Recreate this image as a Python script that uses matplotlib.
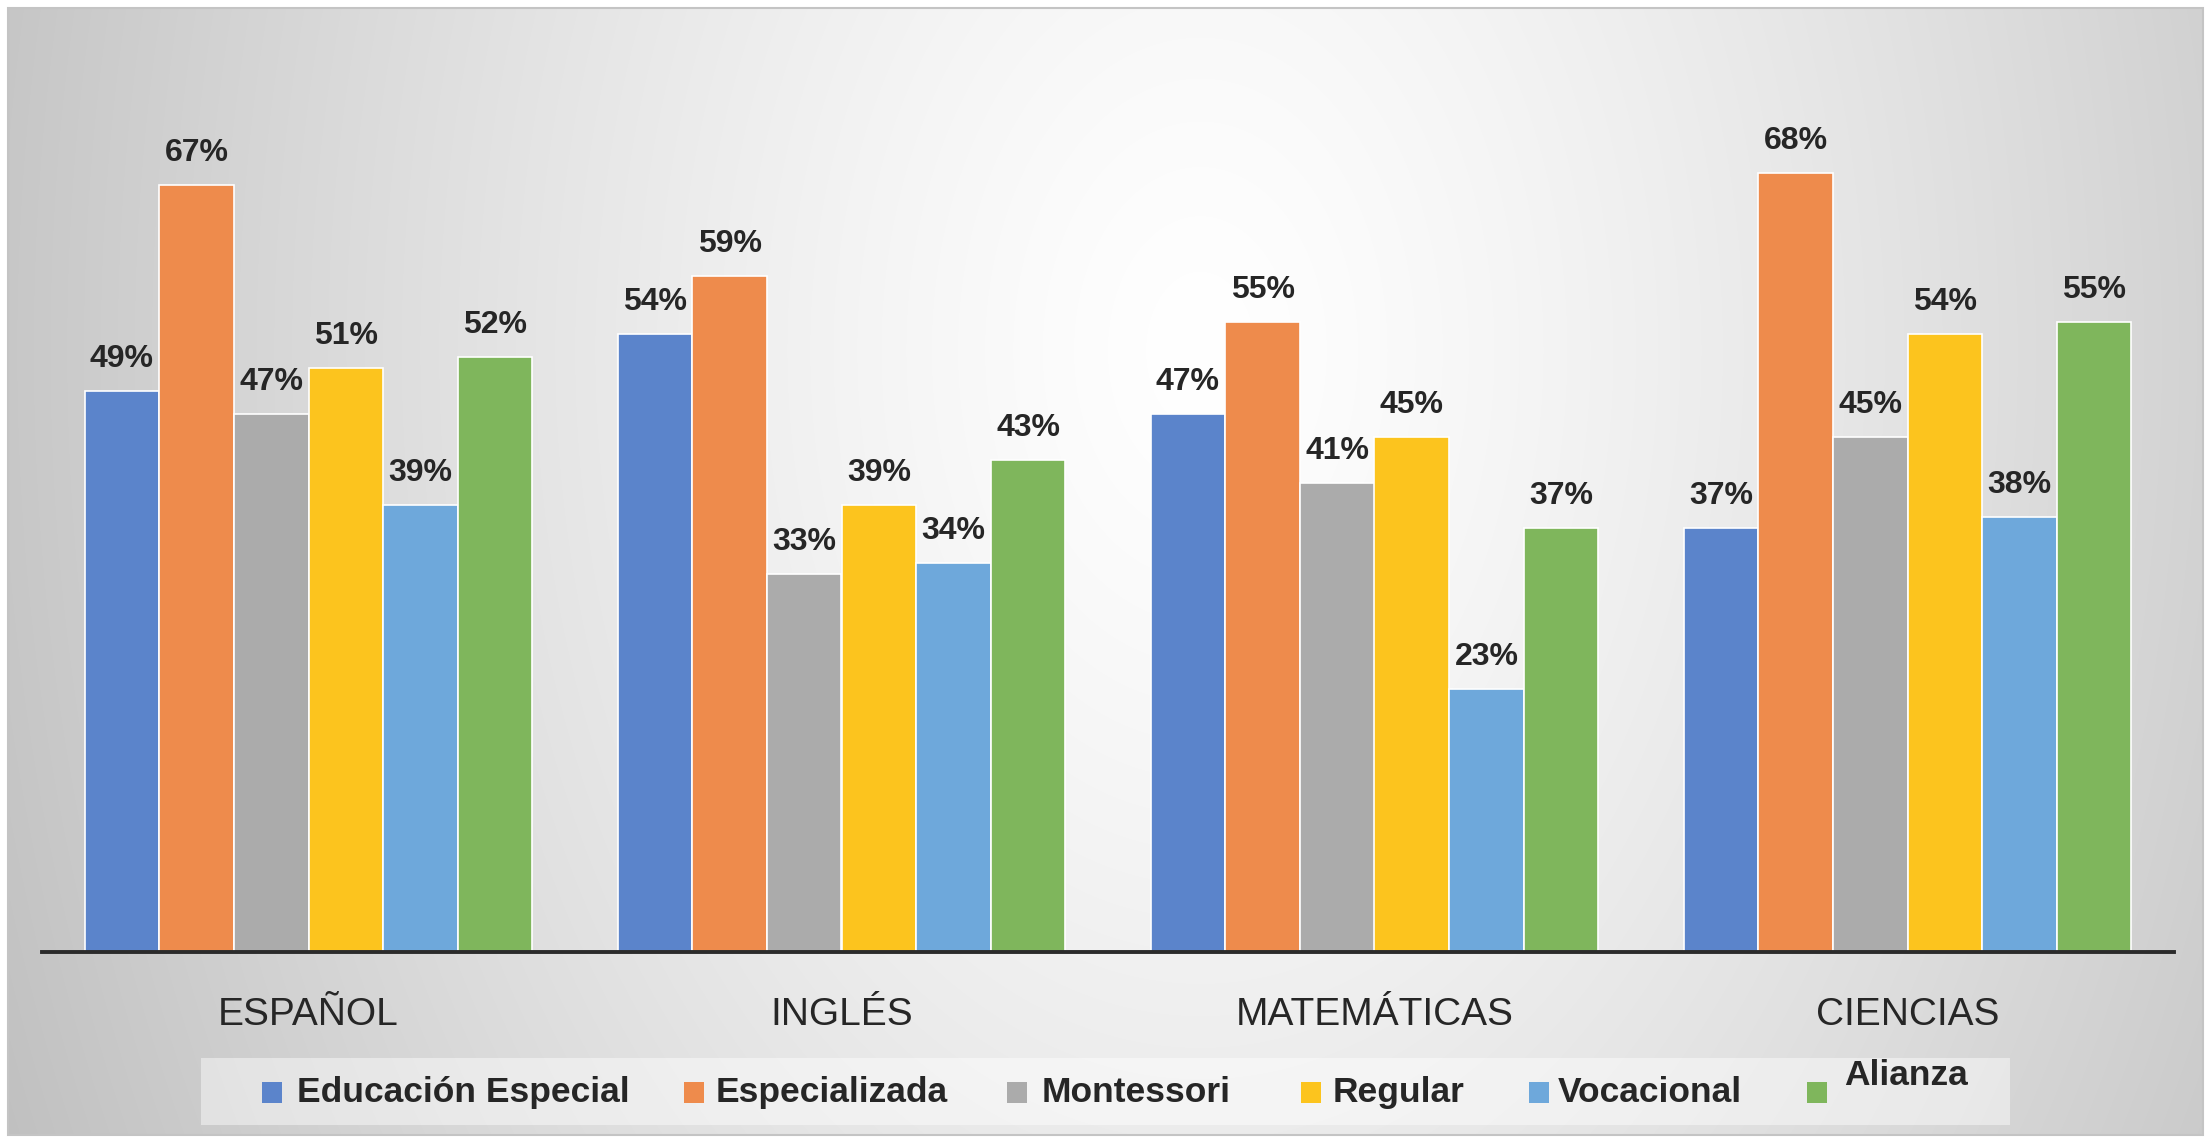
import numpy as np
import matplotlib
matplotlib.use('Agg')
import matplotlib.pyplot as plt
from matplotlib.patches import Rectangle

# ---------------- data ----------------
categories = ['ESPAÑOL', 'INGLÉS', 'MATEMÁTICAS', 'CIENCIAS']
series_names = ['Educación Especial', 'Especializada', 'Montessori',
                'Regular', 'Vocacional', 'Alianza']
educacion_especial = [49, 54, 47, 37]
especializada = [67, 59, 55, 68]
montessori = [47, 33, 41, 45]
regular = [51, 39, 45, 54]
vocacional = [39, 34, 23, 38]
alianza = [52, 43, 37, 55]
series_values = [educacion_especial, especializada, montessori,
                 regular, vocacional, alianza]
colors = ['#5B84CB', '#EE8B4C', '#ABABAB', '#FCC41E', '#6EA8DB', '#7FB65C']

plt.rcParams['font.family'] = ['Liberation Sans', 'DejaVu Sans']
TEXT = '#262626'

W, H = 2208, 1140
fig = plt.figure(figsize=(W / 100, H / 100), dpi=100)
fig.patch.set_facecolor('white')

# ---------------- background panel (pixel coordinates) ----------------
bg = fig.add_axes([0, 0, 1, 1])
bg.set_xlim(0, W)
bg.set_ylim(H, 0)
bg.axis('off')
px0, px1, py0, py1 = 8, 2203, 8, 1135
yy, xx = np.mgrid[py0:py1:2, px0:px1:2]
cx, cy, rx, ry = 1200.0, 350.0, 1100.0, 1600.0
d = np.sqrt(((xx - cx) / rx) ** 2 + ((yy - cy) / ry) ** 2)
gray = 255 - 50 * d ** 1.3
gray = np.clip(gray, 185, 255) / 255.0
img = np.dstack([gray, gray, gray])
bg.imshow(img, extent=(px0, px1, py1, py0), interpolation='bilinear',
          aspect='auto', zorder=0)
bg.add_patch(Rectangle((px0, py0), px1 - px0, py1 - py0, fill=False,
                       edgecolor='#c4c4c4', linewidth=1.5, zorder=1))

# legend (manual, to reproduce the original layout)
bg.add_patch(Rectangle((201, 1058), 1809, 67, facecolor='white', alpha=0.45,
                       edgecolor='none', zorder=2))
legend_marker_x = [262, 684, 1007, 1301, 1529, 1807]
legend_text_x = [297, 716, 1042, 1333, 1558, 1844]
legend_baseline = [1102, 1102, 1102, 1102, 1102, 1085]
for name, col, mx, tx, by in zip(series_names, colors, legend_marker_x,
                                 legend_text_x, legend_baseline):
    bg.add_patch(Rectangle((mx, 1082), 20, 21, facecolor=col,
                           edgecolor='none', zorder=3))
    bg.text(tx, by, name, ha='left', va='baseline', fontsize=25.5,
            fontweight='bold', color=TEXT, zorder=3)

# ---------------- main chart ----------------
ax = fig.add_axes([42 / W, 1 - 952 / H, 2132 / W, 916 / H])
ax.patch.set_alpha(0)
ax.set_xlim(-0.5, 3.5)
ax.set_ylim(0, 80)
for s in ['top', 'left', 'right']:
    ax.spines[s].set_visible(False)
ax.spines['bottom'].set_color('#2b2b2b')
ax.spines['bottom'].set_linewidth(2.8)
ax.set_yticks([])
ax.set_xticks([])

x = np.arange(len(categories))
bw = 0.14
for i, (vals, col) in enumerate(zip(series_values, colors)):
    pos = x + (i - 2.5) * bw
    ax.bar(pos, vals, width=bw, color=col, edgecolor='white',
           linewidth=1.2, zorder=2)
    for xp, v in zip(pos, vals):
        ax.annotate(f'{v}%', (xp, v), xytext=(0, 17.3), textcoords='offset points',
                    ha='center', va='baseline', fontsize=23, fontweight='bold',
                    color=TEXT)

for xi, cat in zip(x, categories):
    ax.annotate(cat, (xi, 0), xytext=(0, -52.5), textcoords='offset points',
                ha='center', va='baseline', fontsize=28, color=TEXT,
                annotation_clip=False)

fig.savefig('out.png', dpi=100, facecolor=fig.get_facecolor())
